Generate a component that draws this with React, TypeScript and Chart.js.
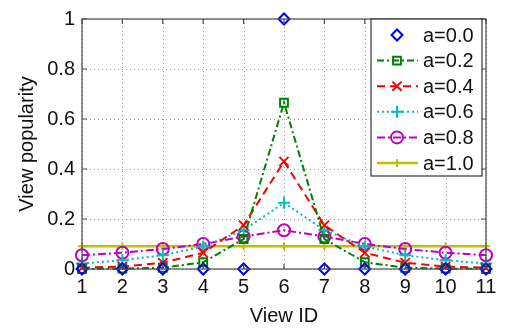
import React, { useEffect, useRef } from "react";
import { Chart, registerables } from "chart.js";

Chart.register(...registerables);

const viewIds = [1, 2, 3, 4, 5, 6, 7, 8, 9, 10, 11];
const seriesLabels = ["a=0.0", "a=0.2", "a=0.4", "a=0.6", "a=0.8", "a=1.0"];
const a00 = [0, 0, 0, 0, 0, 1, 0, 0, 0, 0, 0];
const a02 = [0.0, 0.002, 0.005, 0.027, 0.12, 0.665, 0.12, 0.027, 0.005, 0.002, 0.0];
const a04 = [0.005, 0.01, 0.025, 0.065, 0.175, 0.43, 0.175, 0.065, 0.025, 0.01, 0.005];
const a06 = [0.022, 0.035, 0.055, 0.09, 0.155, 0.265, 0.155, 0.09, 0.055, 0.035, 0.022];
const a08 = [0.055, 0.065, 0.08, 0.1, 0.13, 0.155, 0.13, 0.1, 0.08, 0.065, 0.055];
const a10 = [0.0909, 0.0909, 0.0909, 0.0909, 0.0909, 0.0909, 0.0909, 0.0909, 0.0909, 0.0909, 0.0909];
const yTicks = [0, 0.2, 0.4, 0.6, 0.8, 1];

const FONT = "'Liberation Sans', Arial, Helvetica, sans-serif";

const styles = [
  { color: "#0000ff", dash: [] as number[], point: "rectRot", radius: 5.5, line: false, width: 2 },
  { color: "#008000", dash: [7, 3, 2, 3], point: "rect", radius: 5.5, line: true, width: 2 },
  { color: "#ff0000", dash: [8, 5], point: "crossRot", radius: 6.5, line: true, width: 2 },
  { color: "#00bfbf", dash: [2, 3], point: "cross", radius: 6, line: true, width: 2 },
  { color: "#bf00bf", dash: [8, 3, 2, 3], point: "circle", radius: 6, line: true, width: 2 },
  { color: "#bfbf00", dash: [], point: "cross", radius: 4, line: true, width: 2.5 },
];

const seriesValues = [a00, a02, a04, a06, a08, a10];

function drawMarker(ctx: CanvasRenderingContext2D, style: string, r: number, x: number, y: number) {
  ctx.beginPath();
  if (style === "rectRot") {
    ctx.moveTo(x, y - r);
    ctx.lineTo(x + r, y);
    ctx.lineTo(x, y + r);
    ctx.lineTo(x - r, y);
    ctx.closePath();
  } else if (style === "rect") {
    const s = r * Math.SQRT1_2;
    ctx.rect(x - s, y - s, 2 * s, 2 * s);
  } else if (style === "crossRot") {
    const s = r * Math.SQRT1_2;
    ctx.moveTo(x - s, y - s);
    ctx.lineTo(x + s, y + s);
    ctx.moveTo(x - s, y + s);
    ctx.lineTo(x + s, y - s);
  } else if (style === "cross") {
    ctx.moveTo(x - r, y);
    ctx.lineTo(x + r, y);
    ctx.moveTo(x, y - r);
    ctx.lineTo(x, y + r);
  } else {
    ctx.arc(x, y, r, 0, Math.PI * 2);
  }
  ctx.stroke();
}

const gridPlugin = {
  id: "dottedGrid",
  beforeDatasetsDraw(chart: any) {
    const { ctx, chartArea } = chart;
    const { left, right, top, bottom } = chartArea;
    const xs = chart.scales.x;
    const ys = chart.scales.y;
    ctx.save();
    ctx.strokeStyle = "#9a9a9a";
    ctx.lineWidth = 1;
    ctx.setLineDash([1, 3]);
    ctx.beginPath();
    viewIds.forEach((v) => {
      const px = Math.round(xs.getPixelForValue(v)) + 0.5;
      ctx.moveTo(px, top);
      ctx.lineTo(px, bottom);
    });
    yTicks.forEach((v) => {
      const py = Math.round(ys.getPixelForValue(v)) + 0.5;
      ctx.moveTo(left, py);
      ctx.lineTo(right, py);
    });
    ctx.stroke();
    ctx.restore();
  },
};

const framePlugin = {
  id: "frameLegend",
  afterDraw(chart: any) {
    const { ctx, chartArea } = chart;
    const { left, right, top, bottom } = chartArea;
    const xs = chart.scales.x;
    const ys = chart.scales.y;
    ctx.save();
    ctx.strokeStyle = "#4a4a4a";
    ctx.lineWidth = 1.2;
    ctx.setLineDash([]);
    ctx.strokeRect(left, top, right - left, bottom - top);
    const tl = 5;
    ctx.beginPath();
    viewIds.forEach((v) => {
      const px = xs.getPixelForValue(v);
      ctx.moveTo(px, bottom);
      ctx.lineTo(px, bottom - tl);
      ctx.moveTo(px, top);
      ctx.lineTo(px, top + tl);
    });
    yTicks.forEach((v) => {
      const py = ys.getPixelForValue(v);
      ctx.moveTo(left, py);
      ctx.lineTo(left + tl, py);
      ctx.moveTo(right, py);
      ctx.lineTo(right - tl, py);
    });
    ctx.stroke();

    const bx = 371, by = 19, bw = 111, bh = 157;
    ctx.fillStyle = "#ffffff";
    ctx.fillRect(bx, by, bw, bh);
    ctx.strokeStyle = "#333333";
    ctx.lineWidth = 1.2;
    ctx.strokeRect(bx, by, bw, bh);
    const rowH = 25.6;
    chart.data.datasets.forEach((ds: any, i: number) => {
      const cy = by + 16 + i * rowH;
      const st = styles[i];
      ctx.strokeStyle = st.color;
      ctx.lineWidth = st.width;
      if (st.line) {
        ctx.setLineDash(st.dash);
        ctx.beginPath();
        ctx.moveTo(377, cy);
        ctx.lineTo(418, cy);
        ctx.stroke();
      }
      ctx.setLineDash([]);
      ctx.lineWidth = 2;
      drawMarker(ctx, st.point, st.radius, 397, cy);
      ctx.fillStyle = "#111111";
      ctx.font = `20px ${FONT}`;
      ctx.textAlign = "left";
      ctx.textBaseline = "middle";
      ctx.fillText(ds.label, 423, cy + 1);
    });
    ctx.restore();
  },
};

export default function App() {
  const ref = useRef<HTMLCanvasElement | null>(null);
  useEffect(() => {
    if (!ref.current) return;
    const datasets = seriesValues.map((vals, i) => {
      const st = styles[i];
      return {
        label: seriesLabels[i],
        data: viewIds.map((x, j) => ({ x, y: vals[j] })),
        borderColor: st.color,
        backgroundColor: "rgba(0,0,0,0)",
        borderWidth: st.width,
        borderDash: st.dash,
        showLine: st.line,
        pointStyle: st.point,
        pointRadius: st.radius,
        pointBorderWidth: 2,
        pointBorderColor: st.color,
        pointBackgroundColor: "rgba(0,0,0,0)",
        tension: 0,
        clip: false as any,
      };
    });
    const chart = new Chart(ref.current, {
      type: "scatter",
      data: { datasets: datasets as any },
      options: {
        animation: false,
        responsive: false,
        devicePixelRatio: 1,
        layout: { padding: { top: 14, right: 20, left: 0, bottom: 0 } },
        plugins: { legend: { display: false }, tooltip: { enabled: false } },
        scales: {
          x: {
            type: "linear",
            min: 1,
            max: 11,
            afterBuildTicks: (s: any) => {
              s.ticks = viewIds.map((v) => ({ value: v }));
            },
            afterFit: (s: any) => {
              s.height = 59;
            },
            ticks: {
              font: { family: FONT, size: 20 },
              color: "#111111",
              padding: 6,
              maxRotation: 0,
              autoSkip: false,
              callback: (v: any) => String(v),
            },
            grid: { display: false, drawTicks: false },
            border: { display: false },
            title: {
              display: true,
              text: "View ID",
              font: { family: FONT, size: 20 },
              color: "#111111",
              padding: { top: 0, bottom: 0 },
            },
          },
          y: {
            type: "linear",
            min: 0,
            max: 1,
            afterBuildTicks: (s: any) => {
              s.ticks = yTicks.map((v) => ({ value: v }));
            },
            afterFit: (s: any) => {
              s.width = 82;
            },
            ticks: {
              font: { family: FONT, size: 20 },
              color: "#111111",
              padding: 7,
              callback: (v: any) => String(Math.round(v * 10) / 10),
            },
            grid: { display: false, drawTicks: false },
            border: { display: false },
            title: {
              display: true,
              text: "View popularity",
              font: { family: FONT, size: 20 },
              color: "#111111",
              padding: { top: 15, bottom: 0 },
            },
          },
        },
      },
      plugins: [gridPlugin, framePlugin],
    });
    return () => chart.destroy();
  }, []);
  return (
    <div style={{ position: "absolute", left: 0, top: 0, width: 506, height: 328, background: "#fff" }}>
      <canvas ref={ref} width={506} height={328} style={{ width: 506, height: 328 }} />
    </div>
  );
}
